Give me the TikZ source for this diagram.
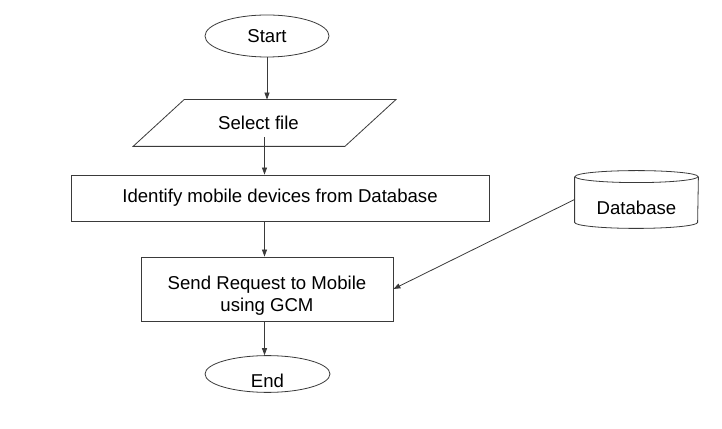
\documentclass[tikz,border=0pt]{standalone}
\usepackage{fontspec}
\setmainfont{Liberation Sans}
\usetikzlibrary{shapes.geometric,arrows.meta,calc}
\definecolor{lc}{HTML}{3A3A3A}
\begin{document}
\begin{tikzpicture}[x=1pt,y=1pt,line width=0.8pt,
  every node/.style={font=\fontsize{18.6}{22}\selectfont, text=black},
  term/.style={ellipse, draw=lc, minimum width=124, minimum height=42, inner sep=0},
  proc/.style={rectangle, draw=lc, inner sep=0, align=center},
  iobox/.style={rectangle, inner sep=0},
  arr/.style={draw=lc, -{Triangle[length=7pt,width=5pt]}}]
\useasboundingbox (0,0) rectangle (722,428);
\fill[white] (0,0) rectangle (722,428);

\node[term] (start) at (267,392) {Start};
\node[iobox, minimum width=211, minimum height=46] (sel) at (264.5,305) {\makebox[0pt]{\hspace*{-12pt}Select file}};
\draw[lc] ($(sel.south west)+(-25.5,0)$) -- ($(sel.south east)+(-25.5,0)$) -- ($(sel.north east)+(25.5,0)$) -- ($(sel.north west)+(25.5,0)$) -- cycle;
\node[proc, minimum width=418, minimum height=46] (idn) at (280,230) {Identify mobile devices from Database};
\node[proc, minimum width=252, minimum height=64] (send) at (267,139) {\rule{0pt}{27pt}Send Request to Mobile\\using GCM};
\node[term, minimum width=125, minimum height=36, text height=26pt, text depth=0pt] (end) at (267.5,54) {End};

\node[inner sep=0, minimum width=123, text height=44pt, text depth=13pt] (db) at (636.5,228.5) {Database};
\draw[lc] ($(db.north)+(0,-6)$) ellipse [x radius=61.5, y radius=6];
\draw[lc] ($(db.north west)+(0,-6)$) -- ($(db.south west)+(0,6)$) arc[start angle=180, end angle=360, x radius=61.5, y radius=6] -- ($(db.north east)+(0,-6)$);

\draw[arr] (start.south) -- (start.south |- sel.north);
\draw[arr] ([yshift=9]sel.south) -- (sel.south |- idn.north);
\draw[arr] (idn.south -| sel.south) -- (send.north -| sel.south);
\draw[arr] (send.south -| sel.south) -- (end.north -| sel.south);
\draw[arr] (db.west) -- (send.east);
\end{tikzpicture}
\end{document}
